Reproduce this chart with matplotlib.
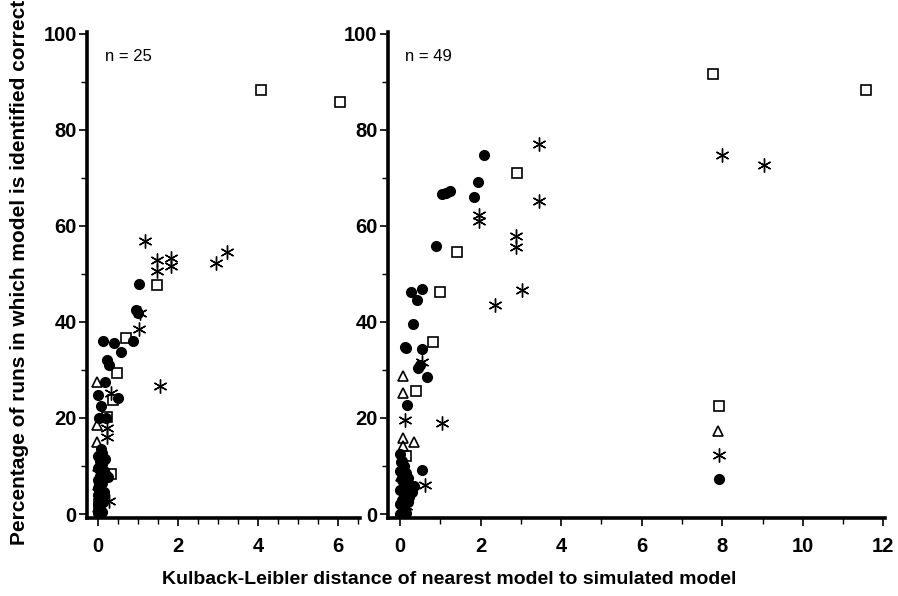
import matplotlib
matplotlib.use("Agg")
import matplotlib.pyplot as plt
from matplotlib.ticker import MultipleLocator

plt.rcParams['font.family'] = ['Liberation Sans', 'DejaVu Sans']

# ---- Panel A (n = 25) ----
a_circle_x = [1.02, 0.95, 1.00, 0.88, 0.13, 0.40, 0.58, 0.22, 0.27, 0.18, 0.00, 0.50, 0.08, 0.03, 0.20,
              0.10, 0.00, 0.05, 0.10, 0.00, 0.15, 0.05, 0.20, 0.25, 0.00, 0.10, 0.00, 0.08, 0.15, 0.00,
              0.05, 0.12, 0.00, 0.05, 0.10, 0.00, 0.08, 0.02, 0.18, 0.12]
a_circle_y = [47.8, 42.4, 41.8, 36.0, 36.0, 35.6, 33.7, 32.1, 31.0, 27.5, 24.8, 24.2, 22.4, 20.1, 20.1,
              12.8, 12.0, 11.0, 10.5, 9.5, 9.0, 8.0, 8.2, 7.8, 7.0, 6.5, 5.5, 5.0, 4.5, 4.0,
              3.0, 2.5, 2.0, 1.0, 0.5, 0.2, 13.5, 6.2, 11.5, 3.5]
a_square_x = [4.08, 6.05, 1.48, 0.70, 0.48, 0.38, 0.22, 0.32, 0.02]
a_square_y = [88.3, 85.7, 47.6, 36.7, 29.4, 23.8, 20.3, 8.3, 2.0]
a_tri_x = [-0.03, -0.03, -0.02, 0.00, 0.00, 0.00]
a_tri_y = [27.5, 18.6, 15.1, 10.0, 6.0, 1.5]
a_star_x = [1.18, 1.48, 1.48, 1.83, 1.83, 2.95, 3.22, 1.05, 1.03, 1.55, 0.32, 0.22, 0.22, 0.28]
a_star_y = [56.9, 52.8, 50.5, 53.2, 51.6, 52.2, 54.5, 41.8, 38.5, 26.7, 25.2, 18.0, 16.0, 2.7]

# ---- Panel B (n = 49) ----
b_circle_x = [2.08, 1.93, 1.05, 1.15, 1.25, 1.83, 0.89, 0.27, 0.42, 0.54, 0.32, 0.12, 0.15, 0.54, 0.45,
              0.50, 0.67, 0.17, 0.54, 7.92,
              0.00, 0.05, 0.10, 0.00, 0.15, 0.20, 0.05, 0.25, 0.10, 0.00, 0.30, 0.15, 0.05, 0.20,
              0.00, 0.10, 0.05, 0.15, 0.00, 0.25, 0.35, 0.12, 0.02, 0.22]
b_circle_y = [74.7, 69.2, 66.6, 66.9, 67.2, 66.0, 55.7, 46.2, 44.5, 46.8, 39.5, 34.8, 34.6, 34.3, 30.4,
              31.0, 28.6, 22.8, 9.2, 7.2,
              12.5, 11.0, 10.0, 9.0, 8.5, 7.5, 7.0, 6.0, 5.5, 5.0, 4.5, 4.0, 3.0, 2.5,
              2.0, 1.5, 0.5, 0.2, 0.0, 5.2, 5.8, 8.0, 10.8, 3.5]
b_square_x = [7.77, 11.58, 2.90, 1.41, 0.99, 0.82, 0.40, 0.15, 7.92]
b_square_y = [91.7, 88.2, 71.0, 54.5, 46.2, 35.8, 25.7, 12.0, 22.4]
b_tri_x = [0.08, 0.08, 0.08, 0.35, 0.08, 7.90, 0.02, 0.02]
b_tri_y = [28.8, 25.3, 15.9, 14.9, 14.1, 17.2, 8.0, 3.0]
b_star_x = [3.44, 8.00, 9.03, 3.44, 1.96, 1.96, 2.87, 2.87, 3.02, 2.35, 0.54, 0.12, 1.04, 0.62, 7.92, 0.15]
b_star_y = [77.0, 74.7, 72.7, 65.2, 62.3, 61.1, 57.8, 55.5, 46.6, 43.5, 31.7, 19.5, 19.0, 6.0, 12.2, 1.7]

panels = [
    dict(rect=[0.097, 0.131, 0.304, 0.815], xlim=(-0.27, 6.55), minor=0.5, label="n = 25",
         c=(a_circle_x, a_circle_y), s=(a_square_x, a_square_y),
         t=(a_tri_x, a_tri_y), a=(a_star_x, a_star_y)),
    dict(rect=[0.432, 0.131, 0.554, 0.815], xlim=(-0.3, 12.05), minor=1.0, label="n = 49",
         c=(b_circle_x, b_circle_y), s=(b_square_x, b_square_y),
         t=(b_tri_x, b_tri_y), a=(b_star_x, b_star_y)),
]

fig = plt.figure(figsize=(8.98, 5.96), dpi=100)

for p in panels:
    ax = fig.add_axes(p['rect'])
    ax.plot(*p['c'], linestyle='none', marker='o', ms=7, mfc='black', mec='black', zorder=3)
    ax.plot(*p['s'], linestyle='none', marker='s', ms=7.5, mfc='none', mec='black', mew=1.2, zorder=3)
    ax.plot(*p['t'], linestyle='none', marker='^', ms=7.5, mfc='none', mec='black', mew=1.2, zorder=3)
    ax.plot(*p['a'], linestyle='none', marker=(6, 2, 0), ms=10, mec='black', mew=1.0, zorder=3)

    ax.set_xlim(*p['xlim'])
    ax.set_ylim(-0.8, 100.3)
    ax.xaxis.set_major_locator(MultipleLocator(2))
    ax.xaxis.set_minor_locator(MultipleLocator(p['minor']))
    ax.yaxis.set_major_locator(MultipleLocator(20))
    ax.yaxis.set_minor_locator(MultipleLocator(10))
    for side in ('top', 'right'):
        ax.spines[side].set_visible(False)
    for side in ('left', 'bottom'):
        ax.spines[side].set_linewidth(2.6)
    ax.tick_params(which='major', direction='out', length=6, width=1.2, labelsize=14.5)
    ax.tick_params(axis='x', which='major', pad=8)
    ax.tick_params(axis='y', which='major', pad=1.5)
    ax.tick_params(which='minor', direction='out', length=4, width=1.0)
    for lab in ax.get_xticklabels() + ax.get_yticklabels():
        lab.set_fontweight('bold')
    ax.text(0.066 if p['minor'] == 0.5 else 0.034, 0.949, p['label'], transform=ax.transAxes,
            fontsize=12, ha='left', va='center')

fig.text(0.5, 0.027, "Kulback-Leibler distance of nearest model to simulated model",
         ha='center', va='center', fontsize=14, fontweight='bold')
fig.text(0.022, 0.085, "Percentage of runs in which model is identified correctly",
         rotation=90, ha='center', va='bottom', fontsize=15, fontweight='bold')

fig.savefig("out.png", dpi=100)
